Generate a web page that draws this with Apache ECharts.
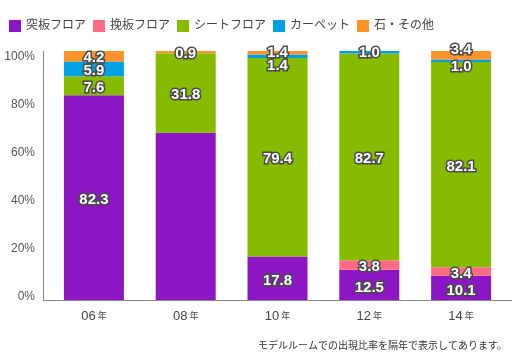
<!DOCTYPE html>
<html>
<head>
<meta charset="utf-8">
<script src="https://cdn.jsdelivr.net/npm/echarts@6/dist/echarts.min.js"></script>
<style>html,body{margin:0;padding:0;background:#fff}#c{width:520px;height:360px}</style>
</head>
<body>
<div id="c"></div>
<script>
// ---- data ----
var categories = ['06年', '08年', '10年', '12年', '14年'];
var seriesNames = ['突板フロア', '挽板フロア', 'シートフロア', 'カーペット', '石・その他'];
var tsukiita = [82.3, 67.3, 17.8, 12.5, 10.1];
var hikiita = [0, 0, 0, 3.8, 3.4];
var sheet = [7.6, 31.8, 79.4, 82.7, 82.1];
var carpet = [5.9, 0, 1.4, 1.0, 1.0];
var stoneOther = [4.2, 0.9, 1.4, 0, 3.4];
var yTicks = [0, 20, 40, 60, 80, 100];
var footnote = 'モデルルームでの出現比率を隔年で表示してあります。';

// ---- style ----
var colors = ['#8c16c4', '#ff6a86', '#86bc00', '#00a0e4', '#ff9228'];
var FONT = '"Liberation Sans", Arial, "Noto Sans CJK JP", sans-serif';
// labels not printed in the original: [seriesIndex, categoryIndex]
var unlabeled = [[0, 1]];
// vertical label nudges in px: key "series,category"
var nudge = { '3,2': 10, '4,2': 0, '3,3': 1, '4,4': -5, '3,4': 6 };

var allValues = [tsukiita, hikiita, sheet, carpet, stoneOther];

function isUnlabeled(s, c) {
  for (var i = 0; i < unlabeled.length; i++) if (unlabeled[i][0] === s && unlabeled[i][1] === c) return true;
  return false;
}

var series = allValues.map(function (vals, s) {
  return {
    name: seriesNames[s],
    type: 'bar',
    stack: 'total',
    barWidth: 60,
    xAxisIndex: 0,
    yAxisIndex: 0,
    itemStyle: { color: colors[s] },
    label: {
      show: true,
      position: 'inside',
      color: '#fff',
      fontFamily: FONT,
      fontWeight: 'bold',
      fontSize: 15,
      textBorderColor: '#4a4a4a',
      textBorderWidth: 3,
      formatter: function (p) { return p.value.toFixed(1); }
    },
    data: vals.map(function (v, c) {
      var key = s + ',' + c;
      var dy = nudge.hasOwnProperty(key) ? nudge[key] : 2;
      var show = v > 0 && !isUnlabeled(s, c);
      return { value: v, label: { show: show, offset: [0, dy] } };
    })
  };
});

var chart = echarts.init(document.getElementById('c'), null, { renderer: 'canvas' });
chart.setOption({
  animation: false,
  color: colors,
  textStyle: { fontFamily: FONT },
  legend: {
    left: 4,
    top: 15,
    itemWidth: 12,
    itemHeight: 12,
    itemGap: 7,
    icon: 'rect',
    data: seriesNames,
    textStyle: { fontSize: 12, color: '#444', fontFamily: FONT }
  },
  grid: [
    { left: 48, right: 13, top: 51, bottom: 59 },
    { left: 48, right: 13, top: 57, bottom: 63 }
  ],
  xAxis: [
    {
      type: 'category',
      gridIndex: 0,
      data: categories,
      axisLine: { show: false },
      axisTick: { show: false },
      axisLabel: {
        margin: 9,
        color: '#444',
        formatter: function (v) {
          return '{n|' + v.slice(0, -1) + '}{y|' + v.slice(-1) + '}';
        },
        rich: {
          n: { fontSize: 13, color: '#444', fontFamily: FONT },
          y: { fontSize: 9, color: '#444', fontFamily: FONT, padding: [0, 0, 0, 2] }
        }
      }
    },
    { type: 'category', gridIndex: 1, data: categories, show: false }
  ],
  yAxis: [
    {
      type: 'value', gridIndex: 0, min: 0, max: 100, interval: 20,
      axisLine: { show: false }, axisTick: { show: false },
      axisLabel: { show: false }, splitLine: { show: false }
    },
    {
      type: 'value', gridIndex: 1, min: yTicks[0], max: yTicks[yTicks.length - 1], interval: 20,
      axisLine: { show: false }, axisTick: { show: false }, splitLine: { show: false },
      axisLabel: { margin: 13, fontSize: 12, color: '#555', fontFamily: FONT, formatter: '{value}%' }
    }
  ],
  graphic: [
    { type: 'line', shape: { x1: 43.5, y1: 51, x2: 43.5, y2: 301 }, style: { stroke: '#888', lineWidth: 1 }, z: 10 },
    { type: 'line', shape: { x1: 43, y1: 300.5, x2: 512, y2: 300.5 }, style: { stroke: '#888', lineWidth: 1 }, z: 10 },
    { type: 'text', right: 13, top: 341, style: { text: footnote, fontSize: 10, fill: '#333', fontFamily: FONT } }
  ],
  series: series
});
</script>
</body>
</html>
